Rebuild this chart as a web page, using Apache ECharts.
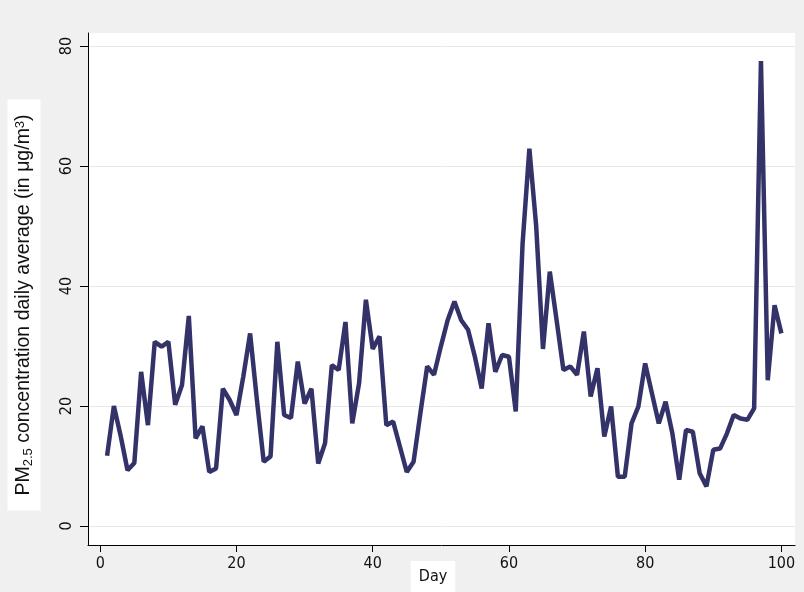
<!DOCTYPE html>
<html>
<head>
<meta charset="utf-8">
<title>PM2.5 daily average</title>
<script src="https://cdn.jsdelivr.net/npm/echarts@6/dist/echarts.min.js"></script>
<style>
html, body { margin: 0; padding: 0; background: #f0f0f0; }
#main { width: 804px; height: 592px; }
</style>
</head>
<body>
<div id="main"></div>
<script>
// day index
var days = [
  1, 2, 3, 4, 5, 6, 7, 8, 9, 10, 11, 12, 13, 14, 15, 16, 17, 18, 19, 20,
  21, 22, 23, 24, 25, 26, 27, 28, 29, 30, 31, 32, 33, 34, 35, 36, 37, 38, 39, 40,
  41, 42, 43, 44, 45, 46, 47, 48, 49, 50, 51, 52, 53, 54, 55, 56, 57, 58, 59, 60,
  61, 62, 63, 64, 65, 66, 67, 68, 69, 70, 71, 72, 73, 74, 75, 76, 77, 78, 79, 80,
  81, 82, 83, 84, 85, 86, 87, 88, 89, 90, 91, 92, 93, 94, 95, 96, 97, 98, 99, 100
];
// daily average PM2.5 (ug/m3)
var pm25 = [
  11.7, 20.0, 15.0, 9.3, 10.5, 25.7, 16.8, 30.7, 29.9, 30.7,
  20.2, 23.5, 35.0, 14.6, 16.6, 9.0, 9.6, 22.9, 21.0, 18.5,
  24.9, 32.1, 21.0, 10.7, 11.6, 30.7, 18.5, 18.0, 27.4, 20.4,
  22.9, 10.4, 13.8, 26.8, 26.0, 34.0, 17.1, 23.8, 37.7, 29.5,
  31.6, 16.8, 17.4, 13.2, 9.0, 10.7, 18.8, 26.6, 25.2, 29.9,
  34.3, 37.4, 34.3, 32.7, 28.2, 22.9, 33.8, 25.7, 28.5, 28.2,
  19.1, 47.0, 62.9, 50.0, 29.5, 42.4, 34.3, 26.0, 26.6, 25.2,
  32.4, 21.6, 26.3, 14.9, 19.9, 8.2, 8.2, 17.1, 19.9, 27.1,
  22.1, 17.1, 20.7, 15.4, 7.7, 16.0, 15.7, 8.8, 6.6, 12.7,
  12.9, 15.4, 18.5, 17.9, 17.7, 19.6, 77.5, 24.3, 36.8, 32.1
];
var xTicks = [0, 20, 40, 60, 80, 100];
var yTicks = [0, 20, 40, 60, 80];

var font = "'DejaVu Sans Condensed', 'Liberation Sans', sans-serif";
var titleFont = "'Liberation Sans', Arial, sans-serif";

var myChart = echarts.init(document.getElementById("main"));

var option = {
  animation: false,
  backgroundColor: "#f0f0f0",
  grid: {
    show: true,
    left: 88,
    right: 9,
    top: 33,
    bottom: 47,
    backgroundColor: "#ffffff",
    borderWidth: 0,
  },
  xAxis: {
    type: "value",
    min: -1.8,
    max: 102,
    axisLine: {
      show: true,
      onZero: false,
      lineStyle: { color: "#000000", width: 1 },
    },
    axisTick: {
      show: true,
      length: 7,
      customValues: xTicks,
      lineStyle: { color: "#000000" },
    },
    axisLabel: {
      customValues: xTicks,
      margin: 11,
      color: "#111111",
      fontSize: 16,
      fontFamily: font,
    },
    splitLine: { show: false },
  },
  yAxis: {
    type: "value",
    min: -3.17,
    max: 82.17,
    axisLine: {
      show: true,
      onZero: false,
      lineStyle: { color: "#000000", width: 1 },
    },
    axisTick: {
      show: true,
      length: 8,
      customValues: yTicks,
      lineStyle: { color: "#000000" },
    },
    axisLabel: {
      customValues: yTicks,
      rotate: 90,
      margin: 13,
      color: "#111111",
      fontSize: 16,
      fontFamily: font,
    },
    splitLine: {
      show: true,
      lineStyle: { color: "#e8e8e8", width: 1 },
    },
  },
  series: [
    {
      type: "line",
      data: days.map(function (d, i) {
        return [d, pm25[i]];
      }),
      showSymbol: false,
      lineStyle: { color: "#33336a", width: 4.5, join: "bevel" },
      itemStyle: { color: "#33336a" },
    },
  ],
  graphic: [
    {
      type: "text",
      x: 24,
      y: 305,
      rotation: Math.PI / 2,
      style: {
        text: "{a|PM}{s|2.5}{a| concentration daily average (in μg/m}{p|3}{a|)}",
        align: "center",
        verticalAlign: "middle",
        backgroundColor: "#ffffff",
        padding: [6, 15],
        rich: {
          a: { fontSize: 19.5, lineHeight: 21, fontFamily: titleFont, fill: "#111111", verticalAlign: "middle" },
          s: { fontSize: 13, lineHeight: 13, fontFamily: titleFont, fill: "#111111", verticalAlign: "bottom" },
          p: { fontSize: 13, lineHeight: 13, fontFamily: titleFont, fill: "#111111", verticalAlign: "top" },
        },
      },
    },
    {
      type: "text",
      x: 433,
      y: 577,
      style: {
        text: "Day",
        align: "center",
        verticalAlign: "middle",
        fontSize: 16,
        fontFamily: font,
        fill: "#111111",
        backgroundColor: "#ffffff",
        padding: [8, 8],
      },
    },
  ],
};

myChart.setOption(option);
</script>
</body>
</html>
